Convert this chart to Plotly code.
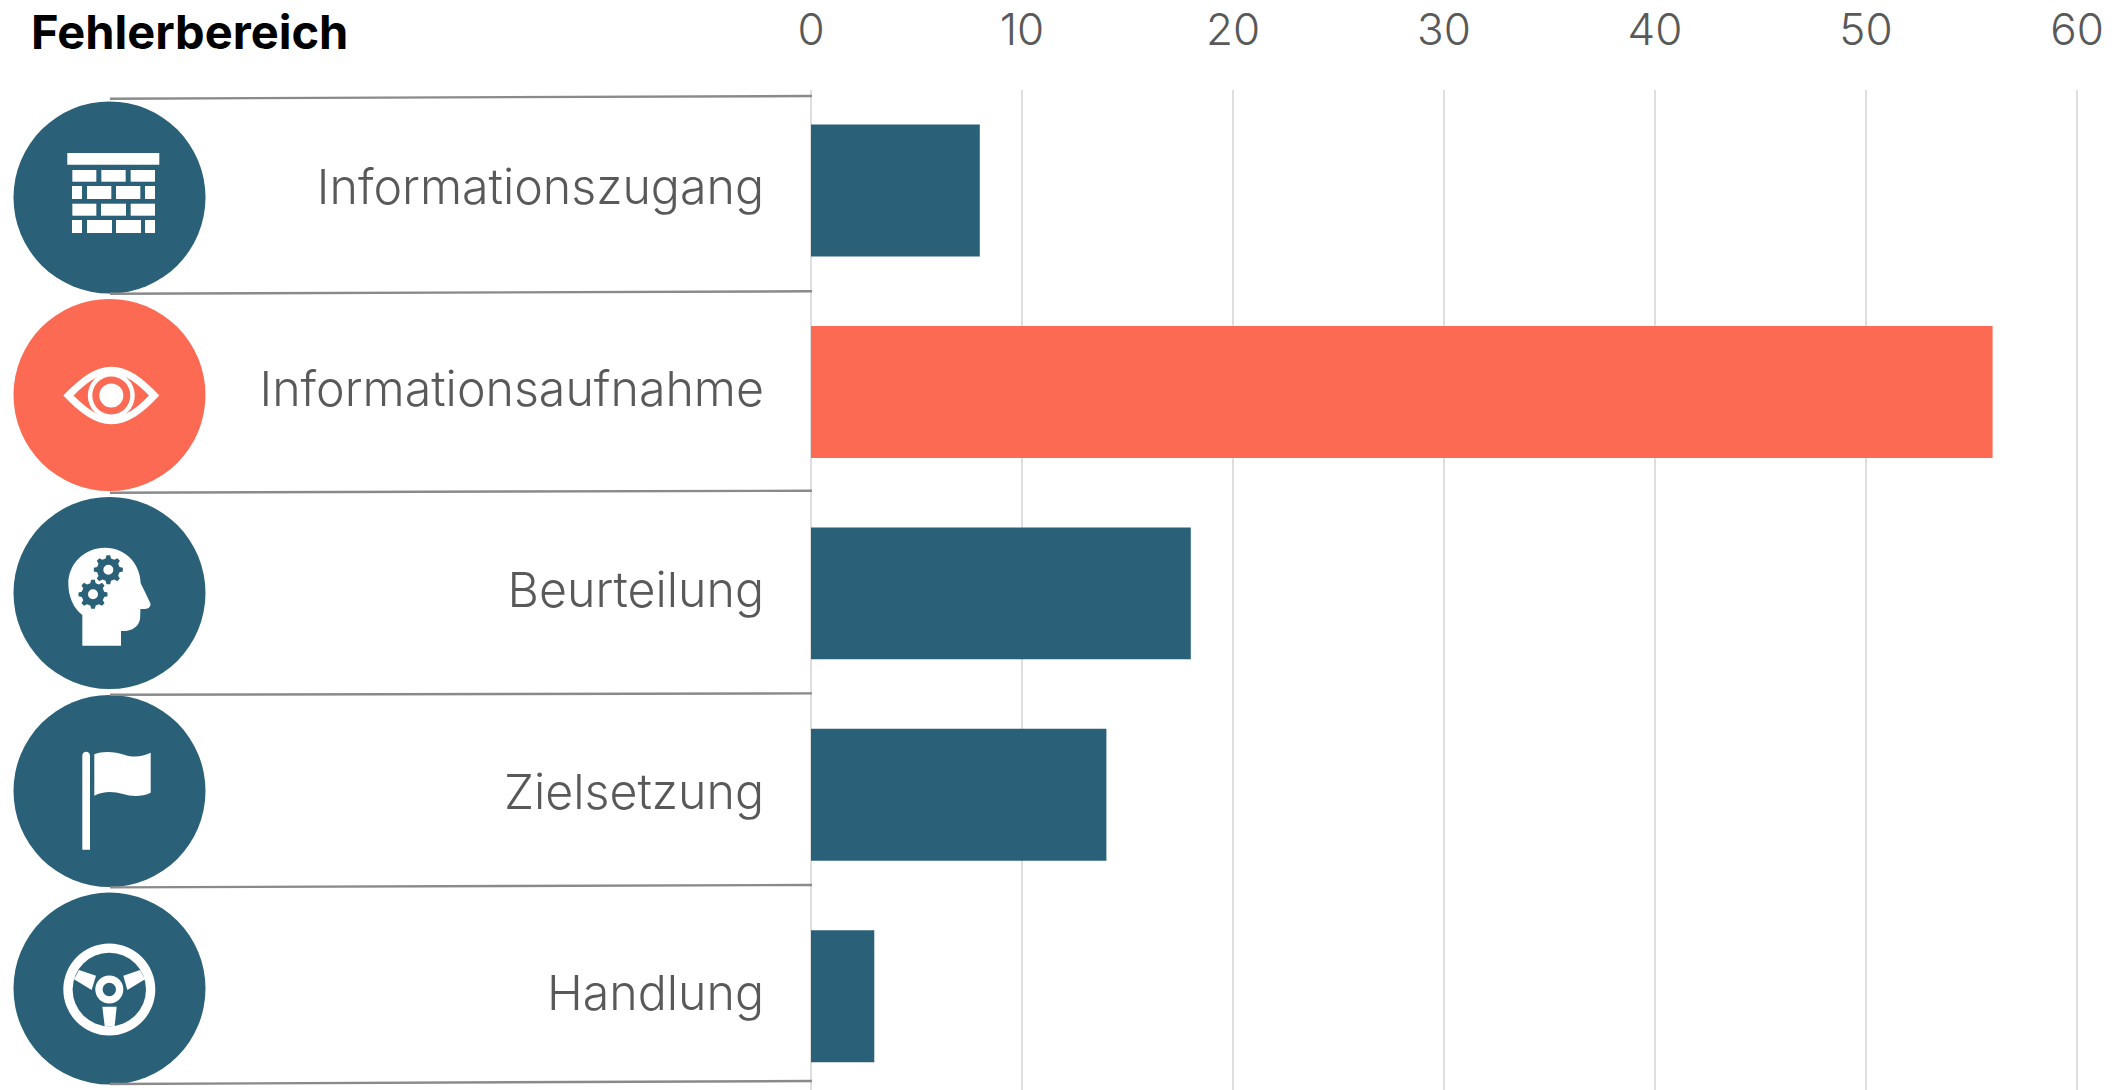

import math
import plotly.graph_objects as go

categories = ["Informationszugang", "Informationsaufnahme", "Beurteilung", "Zielsetzung", "Handlung"]
values = [8, 56, 18, 14, 3]
tick_values = [0, 10, 20, 30, 40, 50, 60]
DARK = "#2A6178"
CORAL = "#FC6A54"
bar_colors = [DARK, CORAL, DARK, DARK, DARK]
W, H = 2124, 1090
FONT = "Inter"
TEXT = "#595959"

def px(x): return x / W
def py(y): return 1 - y / H
def path(pts, close=True):
    s = "M " + " L ".join(f"{px(x):.5f},{py(y):.5f}" for x, y in pts)
    return s + (" Z" if close else "")
def curve(start, segs, close=True):
    s = f"M {px(start[0]):.5f},{py(start[1]):.5f}"
    for a, b, c in segs:
        s += f" C {px(a[0]):.5f},{py(a[1]):.5f} {px(b[0]):.5f},{py(b[1]):.5f} {px(c[0]):.5f},{py(c[1]):.5f}"
    return s + (" Z" if close else "")

shapes = []
def circle(cx, cy, r, fill=None, line=None, lw=0):
    shapes.append(dict(type="circle", xref="paper", yref="paper", layer="above",
                       x0=px(cx - r), x1=px(cx + r), y0=py(cy + r), y1=py(cy - r),
                       fillcolor=fill or "rgba(0,0,0,0)",
                       line=dict(color=line or "rgba(0,0,0,0)", width=lw)))
def rect(x0, y0, x1, y1, fill="white"):
    shapes.append(dict(type="rect", xref="paper", yref="paper", layer="above",
                       x0=px(x0), x1=px(x1), y0=py(y1), y1=py(y0), fillcolor=fill, line=dict(width=0)))
def fillpath(d, fill="white", line=None, lw=0):
    shapes.append(dict(type="path", xref="paper", yref="paper", layer="above", path=d,
                       fillcolor=fill, line=dict(color=line or "rgba(0,0,0,0)", width=lw)))
def lineshape(x0, y0, x1, y1, color="#8A8A8A", w=2.4):
    shapes.append(dict(type="line", xref="paper", yref="paper", layer="above",
                       x0=px(x0), x1=px(x1), y0=py(y0), y1=py(y1), line=dict(color=color, width=w)))

# badge circles
centers = [197.5, 395, 593, 791, 988.6]
for cy, col in zip(centers, bar_colors):
    circle(109.5, cy, 96, fill=col)

# separator lines
for yl, yr in [(98.7, 96), (293.7, 291.3), (492.7, 490.7), (694.8, 693.4), (887.4, 885), (1084, 1081)]:
    lineshape(110, yl, 812, yr)

# brick icon
rect(67.3, 153, 159.3, 164.7)
for y0, y1, xs in [
    (170, 181.7, [(127, 199), (214, 287), (302, 375)]),
    (186, 199, [(126, 156), (171, 244), (258, 331), (345, 375)]),
    (203.7, 215.7, [(127, 199), (213, 288), (302, 375)]),
    (220, 233, [(126, 156), (171, 246), (258, 333), (345, 375)]),
]:
    for a, b in xs:
        rect(30 + a / 3, y0, 30 + b / 3, y1)

# eye icon
ex, ey = 111.3, 395.5
fillpath(curve((63.3, ey), [((80, 378), (95, 366.7), (ex, 366.7)), ((128, 366.7), (143, 378), (159.3, ey)),
                            ((143, 413), (128, 424.3), (ex, 424.3)), ((95, 424.3), (80, 413), (63.3, ey))]))
fillpath(curve((73.5, ey), [((85, 384), (98, 373.7), (ex, 373.7)), ((125, 373.7), (138, 384), (149, ey)),
                            ((138, 407), (125, 417.3), (ex, 417.3)), ((98, 417.3), (85, 407), (73.5, ey))]), fill=CORAL)
circle(ex, ey, 23.5, fill="white")
circle(ex, ey, 19, fill=CORAL)
circle(ex, ey, 12, fill="white")

# head icon
def H3(x, y): return (30 + x / 3, 510 + y / 3)
fillpath(curve(H3(157, 407), [
    (H3(157, 380), H3(157, 340), H3(157, 315)),
    (H3(130, 295), H3(115, 260), H3(115, 220)),
    (H3(115, 160), H3(165, 113), H3(225, 113)),
    (H3(285, 113), H3(331, 160), H3(332, 220)),
    (H3(340, 237), H3(350, 255), H3(361, 280)),
    (H3(364, 290), H3(355, 297), H3(345, 297)),
    (H3(340, 297), H3(335, 297), H3(331, 297)),
    (H3(331, 310), H3(331, 320), H3(330, 328)),
    (H3(326, 350), H3(305, 363), H3(285, 363)),
    (H3(280, 363), H3(276, 363), H3(273, 363)),
    (H3(273, 380), H3(273, 395), H3(273, 407)),
]))
def gear(cx, cy, ro, ri, teeth=8):
    pts = []
    for i in range(teeth):
        c = 2 * math.pi * i / teeth
        w = 2 * math.pi / teeth
        for off, r in [(-0.30, ri), (-0.16, ro), (0.16, ro), (0.30, ri)]:
            pts.append((cx + r * math.cos(c + off * w), cy + r * math.sin(c + off * w)))
    return pts
for gx, gy in [(235, 179), (189, 253)]:
    c = H3(gx, gy)
    fillpath(path(gear(c[0], c[1], 14.6, 11.5)), fill=DARK)
    circle(c[0], c[1], 5, fill="white")

# flag icon
fillpath(curve((82.3, 849.7), [((82.3, 820), (82.3, 790), (82.3, 756)),
                               ((82.3, 750.5), (90, 750.5), (90, 756)),
                               ((90, 790), (90, 820), (90, 849.7))]))
fillpath(curve((94.3, 754.3), [((103, 750.5), (115, 751.5), (125, 755)),
                               ((134, 758), (143, 756.5), (150.7, 752.7)),
                               ((150.7, 766), (150.7, 780), (150.7, 792.7)),
                               ((143, 796.5), (132, 797), (123, 794)),
                               ((113, 791), (103, 791), (94.3, 795.7)),
                               ((94.3, 782), (94.3, 768), (94.3, 754.3))]))

# steering wheel icon
wx, wy = 109.3, 989.5
circle(wx, wy, 46, fill="white")
circle(wx, wy, 36.7, fill=DARK)
def W3(x, y): return (30 + x / 3, 910 + y / 3)
fillpath(path([W3(147, 180), W3(198, 197), W3(185, 240), W3(132, 208)]))
fillpath(path([W3(330, 180), W3(280, 197), W3(292, 240), W3(345, 208)]))
fillpath(path([W3(217, 290), W3(260, 290), W3(254, 348), W3(224, 348)]))
circle(wx, wy, 14, fill="white")
circle(wx, wy, 6.7, fill=DARK)

fig = go.Figure(go.Bar(
    y=categories, x=values, orientation="h", width=0.655,
    marker=dict(color=bar_colors, line=dict(width=0)), showlegend=False,
))
fig.update_layout(
    width=W, height=H, margin=dict(l=0, r=0, t=0, b=0, autoexpand=False),
    paper_bgcolor="white", plot_bgcolor="white",
    font=dict(family=FONT, color=TEXT),
    shapes=shapes,
    xaxis=dict(domain=[811 / W, 2079.11 / W], range=[0, 60.1], side="top", tickvals=tick_values,
               showgrid=True, gridcolor="#DEDEDE", gridwidth=1.5, zeroline=True,
               zerolinecolor="#DEDEDE", zerolinewidth=1.5, showline=False, ticks="",
               ticklabelstandoff=35, tickfont=dict(size=44, family=FONT, color=TEXT, weight=300),
               automargin=False),
    yaxis=dict(domain=[0, 1 - 89.7 / H], range=[4.465, -0.5], type="category",
               categoryorder="array", categoryarray=categories, tickvals=categories,
               showgrid=False, zeroline=False, showline=False, ticks="",
               ticklabelstandoff=46, ticklabelshift=3, tickfont=dict(size=48.3, family=FONT, color=TEXT, weight=300),
               automargin=False),
    annotations=[dict(text="Fehlerbereich", xref="paper", yref="paper", x=29 / W, y=py(31),
                      xanchor="left", yanchor="middle", showarrow=False,
                      font=dict(size=47, family=FONT, color="black", weight=700))],
)
fig.write_html("out.html", config={"displayModeBar": False},
               post_script="document.body.style.margin='0';document.body.style.overflow='hidden';")
